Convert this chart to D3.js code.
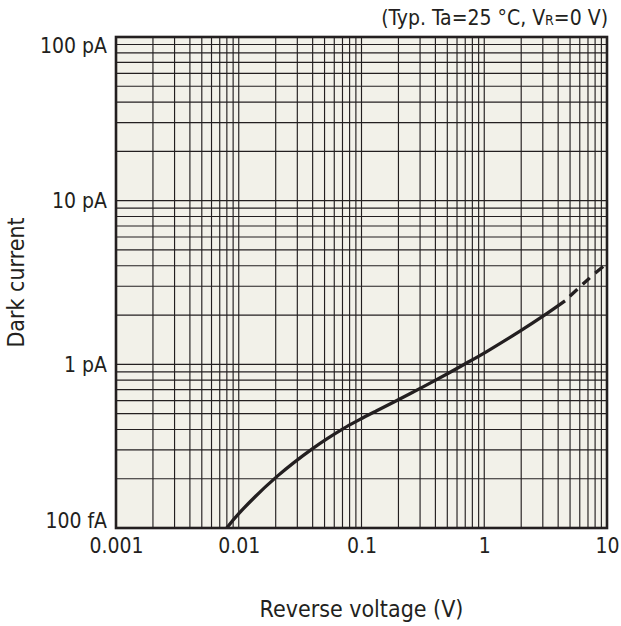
<!DOCTYPE html>
<html>
<head>
<meta charset="utf-8">
<script src="https://cdn.jsdelivr.net/npm/d3@7"></script>
<style>
  html, body { margin: 0; padding: 0; background: #ffffff; }
  svg { display: block; }
  text { font-family: "DejaVu Sans Condensed", "DejaVu Sans", sans-serif; fill: #231f20; }
</style>
</head>
<body>
<svg id="chart" width="621" height="626"></svg>
<script>
// Dark current vs. reverse voltage (typical, Ta = 25 °C)
const voltage = [0.00798, 0.01, 0.0204, 0.0405, 0.0711, 0.0972, 0.133, 0.248, 0.385, 0.719, 1.047, 1.955, 3.03, 4.55];
const current = [0.1, 0.1225, 0.206, 0.308, 0.405, 0.461, 0.521, 0.661, 0.787, 1.019, 1.197, 1.596, 1.977, 2.443]; // pA

// Extrapolated (dashed) section
const voltageExtrap = [4.55, 7, 10];
const currentExtrap = [2.443, 3.3, 4.15]; // pA

const xTickValues = [0.001, 0.01, 0.1, 1, 10];
const xTickLabels = ["0.001", "0.01", "0.1", "1", "10"];
const yTickValues = [0.1, 1, 10, 100];
const yTickLabels = ["100 fA", "1 pA", "10 pA", "100 pA"];

const margin = { left: 116, right: 14, top: 37, bottom: 98 };
const W = 621, H = 626;
const svg = d3.select("#chart");

const x = d3.scaleLog().domain([0.001, 10]).range([margin.left, W - margin.right]);
const y = d3.scaleLog().domain([0.1, 100]).range([H - margin.bottom, margin.top]);

const [x0, x1] = x.range();
const [y0, y1] = [y.range()[1], y.range()[0]];

// plot background
svg.append("rect")
  .attr("x", x0).attr("y", y0)
  .attr("width", x1 - x0).attr("height", y1 - y0)
  .attr("fill", "#f2f1e9");

// grid: every 1..9 step of each decade
function decadeSteps(lo, hi) {
  const out = [];
  for (let d = Math.log10(lo); d < Math.log10(hi); d++) {
    for (let k = 1; k <= 9; k++) out.push(k * Math.pow(10, d));
  }
  out.push(hi);
  return out;
}
const grid = svg.append("g").attr("stroke", "#231f20").attr("stroke-width", 1.15);
grid.selectAll("line.v").data(decadeSteps(0.001, 10)).join("line")
  .attr("class", "v")
  .attr("x1", d => x(d)).attr("x2", d => x(d))
  .attr("y1", y0).attr("y2", y1);
grid.selectAll("line.h").data(decadeSteps(0.1, 100)).join("line")
  .attr("class", "h")
  .attr("y1", d => y(d)).attr("y2", d => y(d))
  .attr("x1", x0).attr("x2", x1);

// curve
svg.append("clipPath").attr("id", "plot-clip")
  .append("rect").attr("x", x0).attr("y", y0).attr("width", x1 - x0).attr("height", y1 - y0);

const line = d3.line()
  .x(d => x(d[0])).y(d => y(d[1]))
  .curve(d3.curveCatmullRom.alpha(0.5));

const measured = voltage.map((v, i) => [v, current[i]]);
const extrap = voltageExtrap.map((v, i) => [v, currentExtrap[i]]);

const curves = svg.append("g").attr("clip-path", "url(#plot-clip)")
  .attr("fill", "none").attr("stroke", "#231f20").attr("stroke-width", 3.3);
curves.append("path").attr("d", line(measured));
curves.append("path").attr("d", line(extrap))
  .attr("stroke-dasharray", "10,7").attr("stroke-dashoffset", 10);

// frame
svg.append("rect")
  .attr("x", x0).attr("y", y0)
  .attr("width", x1 - x0).attr("height", y1 - y0)
  .attr("fill", "none").attr("stroke", "#231f20").attr("stroke-width", 2.6);

// axes
const tickFont = "21px";
const xAxis = svg.append("g")
  .attr("transform", `translate(0,${y1})`)
  .call(d3.axisBottom(x).tickValues(xTickValues)
    .tickFormat((d, i) => xTickLabels[i]).tickSize(0).tickPadding(10));
xAxis.select(".domain").remove();
xAxis.selectAll("text").style("font-size", tickFont)
  .style("font-family", "'DejaVu Sans Condensed', 'DejaVu Sans', sans-serif").attr("fill", "#231f20");

const yAxis = svg.append("g")
  .attr("transform", `translate(${x0},0)`)
  .call(d3.axisLeft(y).tickValues(yTickValues)
    .tickFormat((d, i) => yTickLabels[i]).tickSize(0).tickPadding(9));
yAxis.select(".domain").remove();
yAxis.selectAll("text").style("font-size", tickFont)
  .style("font-family", "'DejaVu Sans Condensed', 'DejaVu Sans', sans-serif").attr("fill", "#231f20")
  .attr("dy", d => d === 100 ? "0.72em" : d === 0.1 ? "-0.02em" : "0.34em");

// axis titles
svg.append("text")
  .attr("x", (x0 + x1) / 2).attr("y", 617)
  .attr("text-anchor", "middle")
  .style("font-size", "23px")
  .text("Reverse voltage (V)");

svg.append("text")
  .attr("transform", `translate(24,${(y0 + y1) / 2}) rotate(-90)`)
  .attr("text-anchor", "middle")
  .style("font-size", "23px")
  .text("Dark current");

// condition note
const note = svg.append("text")
  .attr("x", 608).attr("y", 25)
  .attr("text-anchor", "end")
  .style("font-size", "21px");
note.append("tspan").text("(Typ. Ta=25 °C, V");
note.append("tspan").style("font-size", "14px").text("R");
note.append("tspan").text("=0 V)");
</script>
</body>
</html>
